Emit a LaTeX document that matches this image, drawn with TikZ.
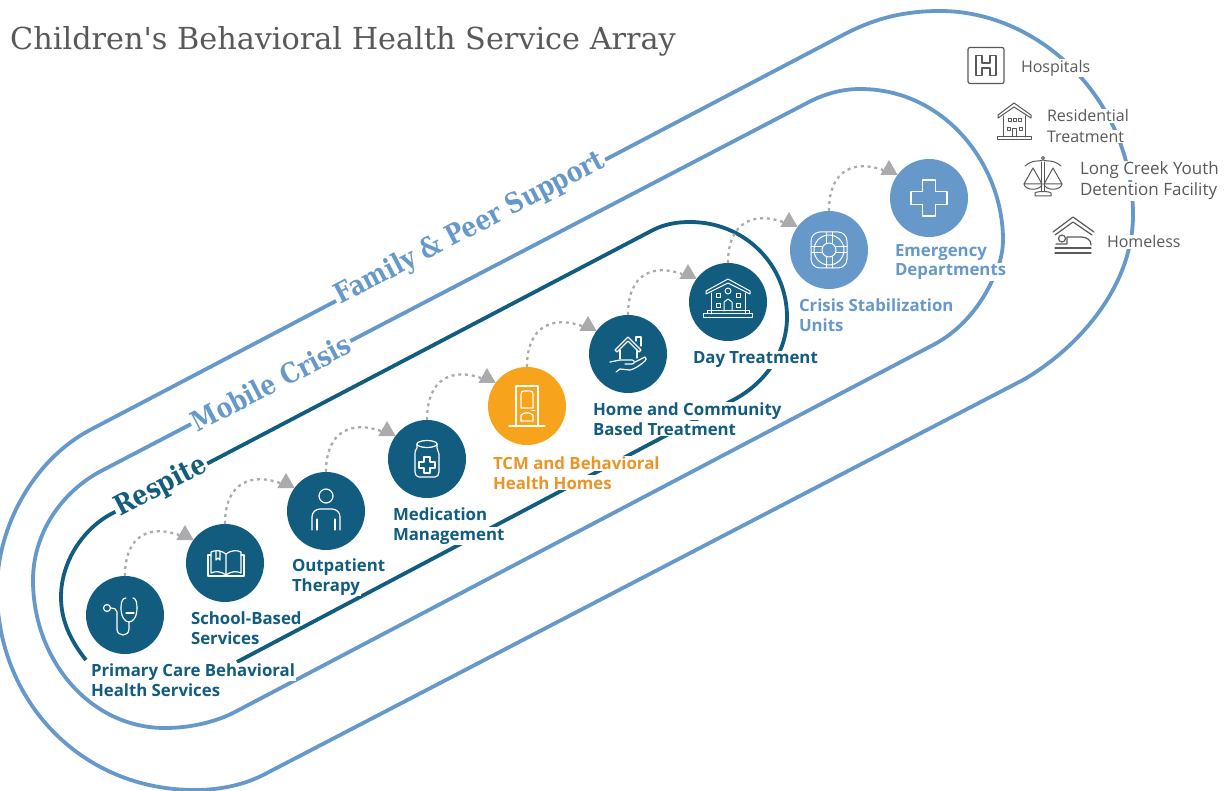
\documentclass[tikz,border=0pt]{standalone}
\usepackage{fontspec}
\usetikzlibrary{positioning, calc, shapes.geometric}
\setmainfont{Open Sans}
\newfontfamily\slabfont{DejaVu Serif}
\newfontfamily\bandfont[FakeStretch=0.85]{DejaVu Serif}
\definecolor{TealColor}{RGB}{18, 92, 127}
\definecolor{SkyColor}{RGB}{102, 153, 201}
\definecolor{AmberColor}{RGB}{247, 163, 28}
\definecolor{AmberText}{RGB}{236, 148, 38}
\definecolor{FlowColor}{RGB}{171, 171, 174}
\definecolor{GreyText}{RGB}{88, 89, 91}
\setlength{\fboxsep}{0.8pt}
\newcommand{\halo}[1]{\colorbox{white}{#1}}

\begin{document}
\begin{tikzpicture}[
    x=1pt, y=-1pt,
    track/.style={line width=3.8pt, line join=round},
    service/.style={circle, minimum size=78pt, inner sep=0pt, fill=TealColor},
    tag/.style={anchor=west, align=left, inner sep=0pt, font=\fontsize{16.8}{19.5}\selectfont\bfseries},
    settag/.style={anchor=west, align=left, inner sep=0pt, text=GreyText, font=\fontsize{16}{20.5}\selectfont},
    bandtag/.style={fill=white, inner sep=2pt, rotate=27.5, font=\bandfont\fontsize{27.8}{28}\selectfont\bfseries},
    flowtip/.style={regular polygon, regular polygon sides=3, minimum size=20pt, inner sep=0pt, fill=FlowColor},
    flow/.style={FlowColor, line width=2.3pt, dash pattern=on 3pt off 3.8pt},
    glyph/.style={white, line width=1.2pt, line join=round, line cap=round},
    greyglyph/.style={GreyText, line width=1.2pt, line join=round, line cap=round}
]
\useasboundingbox (0,0) rectangle (1226,791);

% Bands
\draw[track, SkyColor] (90,430) -- (843,35) .. controls (875,18) and (905,11) .. (940,11)
    .. controls (1040,11) and (1133,100) .. (1133,215) .. controls (1133,285) and (1080,347) .. (1023,380)
    -- (267,773) .. controls (245,785) and (220,790) .. (195,790) .. controls (80,790) and (-3,700) .. (-3,590)
    .. controls (-3,525) and (35,459) .. cycle;
\draw[track, SkyColor] (103,470) -- (807,103) .. controls (822,95) and (840,89) .. (860,89)
    .. controls (945,89) and (1003,165) .. (1003,240) .. controls (1003,255) and (998,270) .. (991,283)
    .. controls (978,310) and (958,332) .. (933,345) -- (233,713) .. controls (215,722) and (190,728) .. (165,728)
    .. controls (90,728) and (33,660) .. (33,580) .. controls (33,535) and (60,492) .. cycle;
\draw[track, TealColor] (86,660) .. controls (70,640) and (61,620) .. (61,597) .. controls (61,560) and (85,527) .. (113,513)
    -- (653,230) .. controls (665,224) and (677,222) .. (690,222) .. controls (745,222) and (787,265) .. (787,317)
    .. controls (787,350) and (768,380) .. (737,398) -- (237,662);

\node[bandtag, text=SkyColor] (familytag) at (470,229) {Family \& Peer Support};
\node[bandtag, text=SkyColor] (crisistag) at (271,383) {Mobile Crisis};
\node[bandtag, text=TealColor] (respitetag) at (161,487) {Respite};

% Title
\node[anchor=west, inner sep=0pt, text=GreyText, font=\slabfont\fontsize{30.3}{30}\selectfont] (title) at (10,41) {Children's Behavioral Health Service Array};

% Services
\node[service] (primary) at (125,615) {};
\node[service] (school) at (225,563) {};
\node[service] (outpatient) at (326,511) {};
\node[service] (medication) at (427,459) {};
\node[service, fill=AmberColor] (tcm) at (527,406) {};
\node[service] (home) at (628,354) {};
\node[service] (day) at (728,302) {};
\node[service, fill=SkyColor] (stabilization) at (829,250) {};
\node[service, fill=SkyColor] (emergency) at (929,198) {};

% Service labels
\node[tag, text=TealColor] (primarytag) at (90,680) {\halo{Primary Care Behavioral}\\\halo{Health Services}};
\node[tag, text=TealColor] (schooltag) at (190,628) {\halo{School-Based}\\\halo{Services}};
\node[tag, text=TealColor] (outpatienttag) at (291,577) {\halo{Outpatient}\\\halo{Therapy}};
\node[tag, text=TealColor] (medicationtag) at (392,526) {\halo{Medication}\\\halo{Management}};
\node[tag, text=AmberText] (tcmtag) at (492,473) {\halo{TCM and Behavioral}\\\halo{Health Homes}};
\node[tag, text=TealColor] (hometag) at (592,419) {\halo{Home and Community}\\\halo{Based Treatment}};
\node[tag, text=TealColor] (daytag) at (692,360) {\halo{Day Treatment}};
\node[tag, text=SkyColor] (stabilizationtag) at (798,315) {\halo{Crisis Stabilization}\\\halo{Units}};
\node[tag, text=SkyColor] (emergencytag) at (894,262) {\halo{Emergency}\\\halo{Departments}};

% Flow between services
\node[flowtip] (tipschool) at ($(school)+(-40,-28)$) {};
\node[flowtip] (tipoutpatient) at ($(outpatient)+(-40,-28)$) {};
\node[flowtip] (tipmedication) at ($(medication)+(-40,-28)$) {};
\node[flowtip] (tiptcm) at ($(tcm)+(-40,-28)$) {};
\node[flowtip] (tiphome) at ($(home)+(-40,-28)$) {};
\node[flowtip] (tipday) at ($(day)+(-40,-28)$) {};
\node[flowtip] (tipstabilization) at ($(stabilization)+(-40,-28)$) {};
\node[flowtip] (tipemergency) at ($(emergency)+(-40,-28)$) {};

\draw[flow] (primary.north) .. controls +(0,-42) and +(-28,-10) .. (tipschool.west);
\draw[flow] (school.north) .. controls +(0,-42) and +(-28,-10) .. (tipoutpatient.west);
\draw[flow] (outpatient.north) .. controls +(0,-42) and +(-28,-10) .. (tipmedication.west);
\draw[flow] (medication.north) .. controls +(0,-42) and +(-28,-10) .. (tiptcm.west);
\draw[flow] (tcm.north) .. controls +(0,-42) and +(-28,-10) .. (tiphome.west);
\draw[flow] (home.north) .. controls +(0,-42) and +(-28,-10) .. (tipday.west);
\draw[flow] (day.north) .. controls +(0,-42) and +(-28,-10) .. (tipstabilization.west);
\draw[flow] (stabilization.north) .. controls +(0,-42) and +(-28,-10) .. (tipemergency.west);

% Stethoscope
\begin{scope}[shift={(125,615)}, glyph]
\draw (1,-17) .. controls (-3,-17) and (-4,-12) .. (-4,-7) .. controls (-4,2) and (0,7) .. (4,7) .. controls (8,7) and (12,2) .. (12,-7) .. controls (12,-12) and (11,-17) .. (8,-17);
\draw (4,7) -- (4,14) .. controls (4,22) and (-8,22) .. (-8,14) -- (-8,-3) .. controls (-8,-6) and (-11,-7) .. (-14,-7);
\draw (-18,-7) circle (3.5);
\draw (1,-2) -- (9,-2);
\end{scope}

% Book
\begin{scope}[shift={(225,563)}, glyph]
\draw (1,-9) .. controls (-4,-13) and (-10,-13) .. (-14,-11) -- (-14,10) .. controls (-10,8) and (-4,8) .. (1,12) .. controls (6,8) and (12,8) .. (16,10) -- (16,-11) .. controls (12,-13) and (6,-13) .. (1,-9) -- (1,12);
\draw (-14,-8) -- (-17,-8) -- (-17,13) -- (19,13) -- (19,-8) -- (16,-8);
\draw (-9,-12) -- (-9,-3) -- (-7,-5) -- (-5,-3) -- (-5,-12);
\end{scope}

% Person
\begin{scope}[shift={(326,511)}, glyph]
\draw (0,-15) circle (7);
\draw (-14,19) -- (-14,6) .. controls (-14,1) and (-10,-2) .. (-6,-2) -- (6,-2) .. controls (10,-2) and (14,1) .. (14,6) -- (14,19);
\draw (-9,8) -- (-9,19);
\draw (9,8) -- (9,19);
\end{scope}

% Pill bottle
\begin{scope}[shift={(427,459)}, glyph]
\draw (0,-15) ellipse (10 and 3.5);
\draw (-10,-15) -- (-10,-11) .. controls (-12,-9) and (-12,-7) .. (-12,-5) -- (-12,13) .. controls (-12,16) and (-10,18) .. (-8,18) -- (8,18) .. controls (10,18) and (12,16) .. (12,13) -- (12,-5) .. controls (12,-7) and (10,-9) .. (10,-11) -- (10,-15);
\draw (-3,-2) -- (3,-2) -- (3,3) -- (8,3) -- (8,9) -- (3,9) -- (3,14) -- (-3,14) -- (-3,9) -- (-8,9) -- (-8,3) -- (-3,3) -- cycle;
\end{scope}

% Door
\begin{scope}[shift={(527,406)}, glyph]
\draw (-11,20) -- (-11,-20) -- (11,-20) -- (11,20);
\draw (-18,20) -- (18,20);
\draw (-6,2) -- (-6,-12) .. controls (-6,-14) and (-5,-15) .. (-3,-15) -- (3,-15) .. controls (5,-15) and (6,-14) .. (6,-12) -- (6,2) -- cycle;
\draw (-6,15) -- (-6,9) .. controls (-2,6) and (2,6) .. (6,9) -- (6,15) -- cycle;
\draw (5,4.5) -- (8,4.5);
\end{scope}

% Home in hand
\begin{scope}[shift={(628,354)}, glyph]
\draw (-13,-4) -- (0,-17) -- (13,-4) -- (11,-2) -- (0,-13) -- (-11,-2) -- cycle;
\draw (-8,-4) -- (-8,5);
\draw (9,-4) -- (9,4);
\draw (8,-13) -- (8,-17) -- (13,-17) -- (13,-8);
\draw (-18,8) -- (-8,6) -- (4,6) .. controls (7,6) and (7,10) .. (4,10) -- (-3,10);
\draw (7,8) -- (17,3) .. controls (19,4) and (18,6) .. (17,7) .. controls (10,13) and (6,15) .. (2,16) -- (-8,15) -- (-12,18);
\end{scope}

% Day treatment building
\begin{scope}[shift={(728,302)}, glyph, line width=1pt]
\draw (-22,-11) -- (0,-23) -- (22,-11) -- (22,-8) -- (0,-19) -- (-22,-8) -- cycle;
\draw (-17,-9) -- (-17,12);
\draw (17,-9) -- (17,12);
\draw (-25,12) rectangle (24,16);
\draw (-21,9) rectangle (21,12);
\draw (0,-11) circle (3);
\draw (-12,-8) rectangle (-8,-4);
\draw (8,-8) rectangle (12,-4);
\draw (-12,2) rectangle (-8,6);
\draw (8,2) rectangle (12,6);
\draw (-4,9) -- (-4,0) -- (0,-3) -- (4,0) -- (4,9);
\end{scope}

% Lifebuoy
\begin{scope}[shift={(829,250)}, glyph, line width=1pt]
\draw[rounded corners=9pt] (-18,-18) rectangle (18,18);
\draw (0,0) circle (7);
\draw (0,0) circle (15);
\foreach \a in {0,90,180,270} {
    \draw[rotate=\a] (-3,-7) -- (-3,-18);
    \draw[rotate=\a] (3,-7) -- (3,-18);
}
\end{scope}

% Cross
\begin{scope}[shift={(929,198)}, glyph, line width=1.6pt, line cap=butt]
\draw (-6.5,-18) -- (6.5,-18) -- (6.5,-6.5) -- (18,-6.5) -- (18,6.5) -- (6.5,6.5) -- (6.5,18) -- (-6.5,18) -- (-6.5,6.5) -- (-18,6.5) -- (-18,-6.5) -- (-6.5,-6.5) -- cycle;
\end{scope}

% Settings outside the bands
\node[settag] (hospitaltag) at (1020,68) {\halo{Hospitals}};
\node[settag] (residentialtag) at (1046,126) {\halo{Residential}\\\halo{Treatment}};
\node[settag, font=\fontsize{17}{21}\selectfont] (detentiontag) at (1079,181) {\halo{Long Creek Youth}\\\halo{Detention Facility}};
\node[settag] (homelesstag) at (1106,242) {\halo{Homeless}};

% Hospital
\begin{scope}[shift={(986,65.5)}, greyglyph]
\draw[rounded corners=2pt] (-18,-18) rectangle (18,18);
\draw (-10,-10) -- (-4,-10) -- (-4,-2.5) -- (4,-2.5) -- (4,-10) -- (10,-10) -- (10,10) -- (4,10) -- (4,2.5) -- (-4,2.5) -- (-4,10) -- (-10,10) -- cycle;
\end{scope}

% Residential house
\begin{scope}[shift={(1014,122)}, greyglyph, line width=1pt]
\draw (-16,-7) -- (0,-19) -- (17,-7) -- (17,-4) -- (0,-15) -- (-16,-4) -- cycle;
\draw (-11,-6) -- (-11,15);
\draw (11,-6) -- (11,15);
\draw (-17,15) rectangle (17,18);
\draw (-6,-3) rectangle (-3,0);
\draw (-1,-3) rectangle (2,0);
\draw (4,-3) rectangle (7,0);
\draw (-7,6) rectangle (-4,9);
\draw (5,6) rectangle (8,9);
\draw (-2,15) -- (-2,7) -- (2,7) -- (2,15);
\end{scope}

% Scales
\begin{scope}[shift={(1043,178)}, greyglyph, line width=1pt]
\draw (0,-20) circle (1.5);
\draw (-18,-12) .. controls (-10,-19) and (-4,-16) .. (0,-18) .. controls (4,-16) and (10,-19) .. (18,-12);
\draw (-1.5,-16) -- (-1.5,13);
\draw (1.5,-16) -- (1.5,13);
\draw (-8,18) -- (-8,15) .. controls (-6,13) and (6,13) .. (8,15) -- (8,18) -- cycle;
\draw (-10,-10) -- (-19,6) -- (-1,6) -- cycle;
\draw (-19,6) .. controls (-18,13) and (-2,13) .. (-1,6);
\draw (10,-10) -- (1,6) -- (19,6) -- cycle;
\draw (1,6) .. controls (2,13) and (18,13) .. (19,6);
\end{scope}

% Shelter and bed
\begin{scope}[shift={(1073,235)}, greyglyph]
\draw (-20,-3) -- (0,-18) -- (21,-3);
\draw (-18,0) -- (0,-13) -- (19,0);
\draw (-11,3.5) circle (3.5);
\draw (-17,9) -- (-6,9) -- (-6,2) -- (8,2) .. controls (14,2) and (18,5) .. (18,10);
\draw (-18,13) -- (18,13);
\draw (-18,18) -- (18,18);
\end{scope}

\end{tikzpicture}
\end{document}
